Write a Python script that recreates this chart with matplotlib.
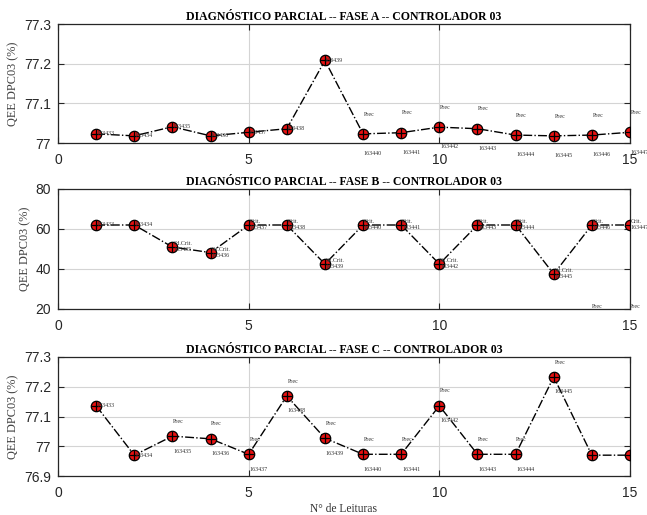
import matplotlib
matplotlib.use("Agg")
import matplotlib.pyplot as plt
import numpy as np

leituras = list(range(1, 16))
ids = ["163433", "163434", "163435", "163436", "163437", "163438", "163439", "163440",
       "163441", "163442", "163443", "163444", "163445", "163446", "163447"]

fase_a = [77.023, 77.018, 77.041, 77.018, 77.027, 77.036, 77.208, 77.023,
          77.026, 77.040, 77.036, 77.020, 77.018, 77.020, 77.027]
fase_b = [62, 62, 51, 48.2, 62, 62, 42.5, 62, 62, 42.5, 62, 62, 37.5, 62, 62]
fase_c = [77.136, 76.970, 77.034, 77.025, 76.973, 77.169, 77.027, 76.973,
          76.973, 77.136, 76.973, 76.973, 77.233, 76.970, 76.970]

status_a = ["", "", "", "", "", "", "", "Prec", "Prec", "Prec", "Prec", "Prec", "Prec", "Prec", "Prec"]
status_b = ["", "", "Sd.Crit.", "Sd.Crit.", "Crit.", "Crit.", "Sd.Crit.", "Crit.", "Crit.",
            "Sd.Crit.", "Crit.", "Crit.", "Sd.Crit.", "Crit.", "Crit."]
status_c = ["", "", "Prec", "Prec", "Prec", "Prec", "Prec", "Prec", "Prec", "Prec",
            "Prec", "Prec", "Prec", None, None]
extra_b = ["", "", "", "", "", "", "", "", "", "", "", "", "", "Prec", "Prec"]

titles = ["DIAGNÓSTICO PARCIAL -- FASE A -- CONTROLADOR 03",
          "DIAGNÓSTICO PARCIAL -- FASE B -- CONTROLADOR 03",
          "DIAGNÓSTICO PARCIAL -- FASE C -- CONTROLADOR 03"]
yticks_all = [[77, 77.1, 77.2, 77.3], [20, 40, 60, 80], [76.9, 77, 77.1, 77.2, 77.3]]
ytick_labels = [["77", "77.1", "77.2", "77.3"], ["20", "40", "60", "80"],
                ["76.9", "77", "77.1", "77.2", "77.3"]]
ylims = [(77, 77.3), (20, 80), (76.9, 77.3)]
xticks = [0, 5, 10, 15]
offsets = [(0.05, -0.05), (1.6, -1.4), (0.05, -0.05)]

fig = plt.figure(figsize=(6.47, 5.15), dpi=100)
left, width = 58 / 647, 572 / 647
tops = [24, 189, 357]
bottoms = [143, 309, 476]

serif = "Liberation Serif"
sans = "Liberation Sans"
dark = "#262626"

series = [fase_a, fase_b, fase_c]
statuses = [status_a, status_b, status_c]

for i in range(3):
    b = 1 - bottoms[i] / 515
    h = (bottoms[i] - tops[i]) / 515
    ax = fig.add_axes([left, b, width, h])
    vals = series[i]
    ax.plot(leituras, vals, color="black", linestyle="-.", linewidth=1.0, zorder=3)
    ax.plot(leituras, vals, linestyle="none", marker="o", markersize=7.5,
            markerfacecolor="#e81010", markeredgecolor="black", markeredgewidth=0.9, zorder=4)
    ax.plot(leituras, vals, linestyle="none", marker="+", markersize=6.5,
            color="black", markeredgewidth=0.9, zorder=5)
    up, down = offsets[i]
    for x, y, st, idt in zip(leituras, vals, statuses[i], ids):
        if st is None:
            continue
        if st == "":
            ax.text(x, y, idt, fontsize=4.3, family=serif, color="#333333",
                    ha="left", va="center", zorder=6, clip_on=False)
        else:
            ax.text(x + 0.02, y + up, st, fontsize=4.3, family=serif, color="#333333",
                    ha="left", va="center", zorder=6, clip_on=False)
            ax.text(x + 0.02, y + down, idt, fontsize=4.3, family=serif, color="#333333",
                    ha="left", va="center", zorder=6, clip_on=False)
    if i == 1:
        for x, e in zip(leituras, extra_b):
            if e:
                ax.text(x, 21.5, e, fontsize=4.3, family=serif, color="#333333",
                        ha="left", va="center", zorder=6, clip_on=False)
    ax.set_xlim(0, 15)
    ax.set_ylim(*ylims[i])
    ax.set_xticks(xticks)
    ax.set_xticklabels([str(t) for t in xticks], family=sans, fontsize=10, color=dark)
    ax.set_yticks(yticks_all[i])
    ax.set_yticklabels(ytick_labels[i], family=sans, fontsize=10, color=dark)
    ax.tick_params(direction="in", length=4, width=0.8, colors=dark, top=True, right=True,
                   labeltop=False, labelright=False, pad=5)
    ax.tick_params(axis="x", pad=7)
    ax.grid(True, color="#d4d4d4", linewidth=0.8, zorder=0)
    for sp in ax.spines.values():
        sp.set_color(dark)
        sp.set_linewidth(0.9)
    ax.set_title(titles[i], family=serif, fontweight="bold", fontsize=8.5, color="black", pad=3)
    ax.set_ylabel("QEE DPC03 (%)", family=serif, fontsize=8.8, color="#404040", labelpad=3)
    if i == 2:
        ax.set_xlabel("N° de Leituras", family=serif, fontsize=8.3, color="#333333", labelpad=2)

fig.savefig("out.png", dpi=100)
